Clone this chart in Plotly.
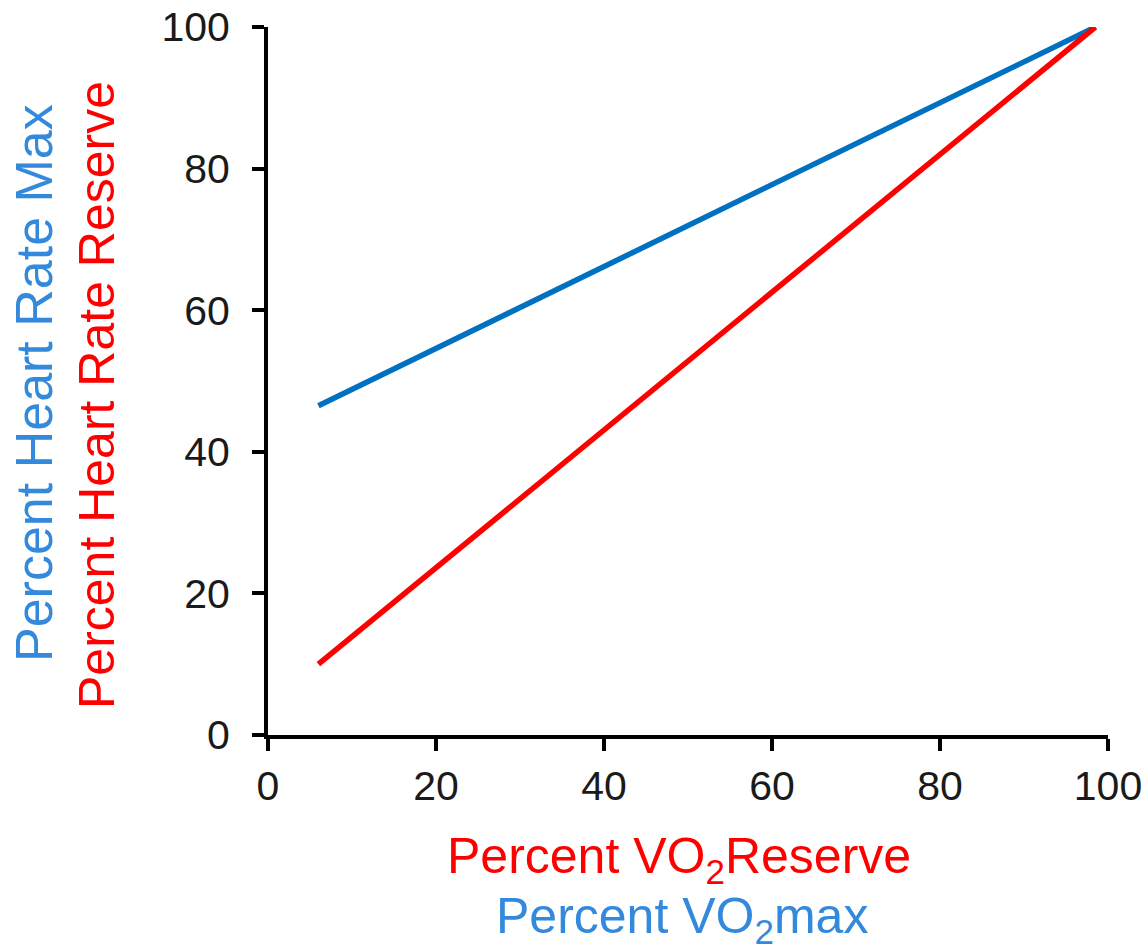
import plotly.graph_objects as go

# Percent of reserve / max across the exercise range
pct_x = [6, 98.5]
hr_max = [46.5, 100]       # % heart rate max
hr_reserve = [10, 100]     # % heart rate reserve

BLUE_LINE = "#0070C0"
BLUE_TEXT = "#3389DB"
RED = "#FF0000"
FONT = "Liberation Sans, Arial, sans-serif"

fig = go.Figure()
fig.add_trace(go.Scatter(x=pct_x, y=hr_max, mode="lines",
                         line=dict(color=BLUE_LINE, width=5.5),
                         cliponaxis=False, showlegend=False))
fig.add_trace(go.Scatter(x=pct_x, y=hr_reserve, mode="lines",
                         line=dict(color=RED, width=5.5),
                         cliponaxis=False, showlegend=False))

axis_common = dict(range=[0, 100], dtick=20, showgrid=False, zeroline=False,
                   automargin=False,
                   showline=True, linecolor="black", linewidth=4,
                   ticks="outside", ticklen=12, tickwidth=4, tickcolor="black",
                   tickfont=dict(family=FONT, size=41, color="#1a1a1a"))

fig.update_layout(
    width=1148, height=949,
    margin=dict(l=268, r=40, t=27, b=214),
    plot_bgcolor="white", paper_bgcolor="white",
    xaxis=dict(**axis_common, ticklabelstandoff=0),
    yaxis=dict(**axis_common, ticklabelstandoff=14),
    annotations=[
        dict(text="Percent Heart Rate Max", textangle=-90, xref="paper", yref="paper",
             x=(34 - 268) / 840, y=(735 - 383) / 708, xanchor="center", yanchor="middle",
             showarrow=False, font=dict(family=FONT, size=52, color=BLUE_TEXT)),
        dict(text="Percent Heart Rate Reserve", textangle=-90, xref="paper", yref="paper",
             x=(97 - 268) / 840, y=(735 - 395) / 708, xanchor="center", yanchor="middle",
             showarrow=False, font=dict(family=FONT, size=50, color=RED)),
        dict(text="Percent VO<sub>2</sub>Reserve", xref="paper", yref="paper",
             x=(679 - 268) / 840, y=(735 - 859) / 708, xanchor="center", yanchor="middle",
             showarrow=False, font=dict(family=FONT, size=50, color=RED)),
        dict(text="Percent VO<sub>2</sub>max", xref="paper", yref="paper",
             x=(682 - 268) / 840, y=(735 - 919) / 708, xanchor="center", yanchor="middle",
             showarrow=False, font=dict(family=FONT, size=50, color=BLUE_TEXT)),
    ],
)

fig.write_html("out.html")
